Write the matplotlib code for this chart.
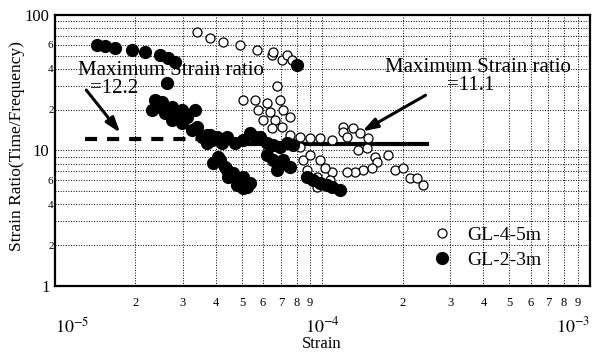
import matplotlib.pyplot as plt
from matplotlib.ticker import FixedLocator, FixedFormatter

plt.rcParams['font.family'] = ['Liberation Serif', 'DejaVu Serif']
plt.rcParams['mathtext.fontset'] = 'stix'

# GL-2-3m (filled)
strain_23 = [1.44e-5, 1.54e-5, 1.68e-5, 1.94e-5, 2.17e-5, 2.47e-5, 2.64e-5, 2.81e-5,
             2.62e-5, 2.37e-5, 2.31e-5, 2.51e-5, 2.74e-5, 2.58e-5, 2.98e-5, 3.34e-5,
             2.74e-5, 2.98e-5, 3.25e-5, 3.55e-5, 3.86e-5, 4.21e-5, 4.07e-5, 4.32e-5,
             4.43e-5, 2.47e-5, 2.86e-5, 3.12e-5, 3.40e-5, 3.70e-5, 4.03e-5, 8.04e-5,
             3.70e-5, 3.80e-5, 4.14e-5, 4.40e-5, 4.71e-5, 5.05e-5, 5.36e-5, 5.60e-5,
             5.84e-5, 6.21e-5, 6.53e-5, 6.93e-5, 7.36e-5, 7.76e-5,
             3.90e-5, 4.14e-5, 4.40e-5, 4.63e-5, 4.92e-5, 5.05e-5, 5.36e-5, 4.79e-5,
             5.22e-5, 5.05e-5,
             6.21e-5, 6.53e-5, 6.93e-5, 7.11e-5, 7.56e-5, 6.76e-5,
             8.75e-5, 9.21e-5, 9.79e-5, 1.04e-4, 1.09e-4, 1.16e-4]
ratio_23 = [60.1, 59.0, 57.1, 55.2, 53.3, 50.7, 48.2, 45.0,
            31.5, 23.6, 19.9, 22.8, 20.9, 18.9, 19.9, 19.9,
            16.8, 16.0, 14.2, 12.6, 11.9, 11.3, 8.96, 7.55,
            6.37, 20.9, 18.3, 17.7, 14.9, 13.0, 12.6, 42.8,
            11.3, 13.0, 11.9, 12.6, 11.3, 11.9, 13.5, 12.6,
            12.6, 11.3, 11.0, 10.6, 11.3, 11.0,
            8.09, 8.51, 7.18, 6.82, 6.05, 6.37, 5.75, 5.56,
            5.38, 5.29,
            9.27, 8.51, 7.82, 8.51, 7.55, 7.18,
            6.37, 6.05, 5.75, 5.56, 5.38, 5.11]

# GL-4-5m (open)
strain_45 = [3.40e-5, 3.80e-5, 4.25e-5, 4.92e-5, 5.69e-5, 6.48e-5, 6.53e-5, 7.06e-5,
             7.36e-5, 7.69e-5, 6.76e-5, 5.05e-5, 5.60e-5, 6.21e-5, 6.93e-5, 5.74e-5,
             6.37e-5, 7.11e-5, 6.00e-5, 6.64e-5, 7.56e-5, 6.48e-5, 7.06e-5, 7.56e-5,
             8.24e-5, 8.98e-5, 9.79e-5, 1.09e-4, 1.19e-4, 1.30e-4, 1.19e-4, 1.38e-4,
             1.48e-4, 1.24e-4, 1.36e-4, 1.47e-4, 1.57e-4, 1.60e-4, 1.53e-4, 1.42e-4,
             1.32e-4, 1.24e-4, 1.09e-4, 1.76e-4, 1.87e-4, 2.00e-4, 2.12e-4, 2.26e-4,
             2.38e-4, 8.24e-5, 8.45e-5, 8.75e-5, 9.53e-5, 1.07e-4, 9.21e-5, 9.53e-5,
             9.79e-5, 1.02e-4, 8.98e-5]
ratio_45 = [75.0, 67.6, 63.2, 60.1, 55.2, 50.7, 53.3, 46.6,
            50.7, 46.6, 29.9, 23.6, 23.6, 22.4, 23.6, 19.9,
            19.2, 19.9, 16.8, 16.8, 17.7, 14.7, 14.9, 13.0,
            12.6, 12.4, 12.4, 11.9, 14.9, 14.7, 13.7, 13.5,
            12.4, 12.6, 10.1, 10.4, 8.96, 8.22, 7.43, 7.18,
            6.94, 6.94, 6.94, 9.27, 7.18, 7.43, 6.27, 6.27,
            5.56, 10.6, 8.51, 7.18, 6.37, 6.05, 6.05, 5.38,
            8.51, 7.43, 9.27]

max_ratio_23 = 12.2
max_ratio_45 = 11.1
line_23 = [1.29e-5, 5.05e-5]
line_45 = [5.05e-5, 2.46e-4]

fig = plt.figure(figsize=(5.99, 3.53), dpi=100)
ax = fig.add_axes([0.0918, 0.19, 0.893, 0.768])
ax.set_xscale('log')
ax.set_yscale('log')
ax.set_xlim(1e-5, 1e-3)
ax.set_ylim(1, 100)

ax.grid(True, which='both', linestyle=':', color='k', linewidth=0.7)

ax.text(0.043, 0.793, 'Maximum Strain ratio', transform=ax.transAxes, fontsize=15, va='center', zorder=1)
ax.text(0.065, 0.727, '=12.2', transform=ax.transAxes, fontsize=15, va='center', zorder=1)
ax.text(0.617, 0.806, 'Maximum Strain ratio', transform=ax.transAxes, fontsize=15, va='center', zorder=1)
ax.text(0.733, 0.738, '=11.1', transform=ax.transAxes, fontsize=15, va='center', zorder=1)

ax.annotate('', xy=(1.78e-5, 13.0), xytext=(1.29e-5, 28.9),
            arrowprops=dict(arrowstyle='-|>,head_length=0.9,head_width=0.3', lw=2.2, color='k'))
ax.annotate('', xy=(1.38e-4, 13.5), xytext=(2.48e-4, 26.1),
            arrowprops=dict(arrowstyle='-|>,head_length=0.9,head_width=0.3', lw=2.2, color='k'))

ax.plot(line_23, [max_ratio_23] * 2, color='k', lw=3, dashes=(2.9, 2.4), zorder=2)
ax.plot(line_45, [max_ratio_45] * 2, color='k', lw=3, zorder=2)

ax.plot(strain_45, ratio_45, 'o', mfc='white', mec='k', mew=0.9, ms=6.5, zorder=3, label='GL-4-5m')
ax.plot(strain_23, ratio_23, 'o', color='k', ms=8.5, zorder=4, label='GL-2-3m')

# ticks
ax.yaxis.set_major_locator(FixedLocator([1, 10, 100]))
ax.yaxis.set_major_formatter(FixedFormatter(['1', '10', '100']))
yminor = [2, 3, 4, 5, 6, 7, 8, 9, 20, 30, 40, 50, 60, 70, 80, 90]
ax.yaxis.set_minor_locator(FixedLocator(yminor))
ax.yaxis.set_minor_formatter(FixedFormatter(['2', '', '4', '', '6', '', '', '',
                                             '2', '', '4', '', '6', '', '', '']))

ax.xaxis.set_major_locator(FixedLocator([1e-5, 1e-4, 1e-3]))
ax.xaxis.set_major_formatter(FixedFormatter(['$10^{-5}$', '$10^{-4}$', '$10^{-3}$']))
xminor = [k * 1e-5 for k in range(2, 10)] + [k * 1e-4 for k in range(2, 10)]
ax.xaxis.set_minor_locator(FixedLocator(xminor))
ax.xaxis.set_minor_formatter(FixedFormatter([str(k) for k in range(2, 10)] * 2))

ax.tick_params(which='both', length=0)
ax.tick_params(axis='y', which='major', labelsize=12, pad=4)
ax.tick_params(axis='y', which='minor', labelsize=8, pad=1)
ax.tick_params(axis='x', which='minor', labelsize=9, pad=8)
ax.tick_params(axis='x', which='major', labelsize=13, pad=22)

for s in ax.spines.values():
    s.set_linewidth(1.6)

ax.set_xlabel('Strain', fontsize=12)
ax.xaxis.set_label_coords(0.499, -0.185)
ax.set_ylabel('Strain Ratio(Time/Frequency)', fontsize=12.5)
ax.yaxis.set_label_coords(-0.056, 0.517)

ax.legend(loc='upper left', bbox_to_anchor=(0.69, 0.25), frameon=False, fontsize=14,
          handlelength=1.0, handletextpad=0.8, labelspacing=0.4, borderaxespad=0)

fig.canvas.draw()
ax.get_xticklabels()[-1].set_horizontalalignment('right')
ax.get_xticklabels()[0].set_horizontalalignment('left')

fig.savefig('out.png', dpi=100)
